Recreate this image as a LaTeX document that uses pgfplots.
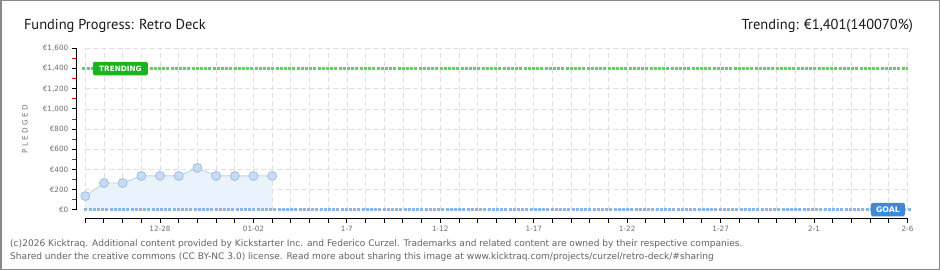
\documentclass[border=0pt]{standalone}
\usepackage{pgfplots}
\pgfplotsset{compat=1.18}
\usepackage{fontspec}
\setmainfont{PT Sans}
\newfontfamily\dejavu{DejaVu Sans}
\definecolor{framec}{RGB}{136,136,136}
\definecolor{gridc}{RGB}{222,222,222}
\definecolor{tickc}{RGB}{110,110,110}
\definecolor{areac}{RGB}{234,242,252}
\definecolor{linec}{RGB}{188,212,240}
\definecolor{markc}{RGB}{198,220,245}
\definecolor{markb}{RGB}{150,178,214}
\definecolor{goalc}{RGB}{138,182,232}
\definecolor{goalbox}{RGB}{62,138,216}
\definecolor{trendline}{RGB}{100,205,100}
\definecolor{trendbox}{RGB}{28,180,28}
\definecolor{footc}{RGB}{100,100,100}
\pgfplotstableread{
day pledged
0 135
1 265
2 265
3 335
4 335
5 335
6 415
7 335
8 335
9 335
10 335
}\pledges
\begin{document}
\begin{tikzpicture}
\useasboundingbox (0,0) rectangle (940bp,270bp);
\fill[white] (0,0) rectangle (940bp,270bp);
\draw[framec, line width=1.5bp] (0.75bp,0.75bp) rectangle (939.25bp,269.25bp);
\node[anchor=base west, font=\fontsize{14.5}{16}\selectfont, text=black!90] at (20.5bp,240.7bp) {Funding Progress: Retro Deck};
\node[anchor=base east, font=\fontsize{14.5}{16}\selectfont, text=black!90] at (916.5bp,240.7bp) {Trending: €1,401(140070\%)};
\node[anchor=base west, inner sep=0pt, font=\dejavu\fontsize{9.1}{10}\selectfont, text=footc] at (10bp,24bp) {(c)2026 Kicktraq. Additional content provided by Kickstarter Inc. and Federico Curzel. Trademarks and related content are owned by their respective companies.};
\node[anchor=base west, inner sep=0pt, font=\dejavu\fontsize{9.1}{10}\selectfont, text=footc] at (10bp,11bp) {Shared under the creative commons (CC BY-NC 3.0) license. Read more about sharing this image at www.kicktraq.com/projects/curzel/retro-deck/\#sharing};
\begin{axis}[
  at={(85.3bp,60.3bp)}, anchor=south west,
  scale only axis, width=822.2bp, height=161.2bp,
  xmin=0, xmax=44, ymin=0, ymax=1600,
  axis lines=left, axis line style={-, black, line width=1bp},
  axis x line shift=8.6bp, axis y line shift=9bp,
  xtick={4,9,...,44},
  xticklabels={12-28,01-02,1-7,1-12,1-17,1-22,1-27,2-1,2-6},
  minor xtick={0,...,44},
  ytick={0,200,...,1600},
  yticklabels={{€0},{€200},{€400},{€600},{€800},{€1,000},{€1,200},{€1,400},{€1,600}},
  minor ytick={100,300,...,1500},
  tick align=outside, major tick length=4.5bp, minor tick length=4.5bp,
  every tick/.style={black, line width=1bp},
  every minor y tick/.style={red, line width=1bp},
  xmajorgrids, xminorgrids, ymajorgrids,
  major grid style={gridc, dash pattern=on 5bp off 3bp, line width=0.8bp},
  minor grid style={gridc, dash pattern=on 5bp off 3bp, line width=0.8bp},
  tick label style={font=\dejavu\fontsize{7.3}{8}\selectfont, text=tickc},
  ylabel={P L E D G E D},
  ylabel style={at={(axis description cs:-0.0733,0.5)}, anchor=center, font=\dejavu\fontsize{7.3}{8}\selectfont, text=tickc},
  clip=false,
]
\addplot[fill=areac, draw=none] table[x=day, y=pledged] {\pledges} \closedcycle;
\addplot[linec, line width=0.9bp, mark=*, mark size=4.5bp, mark options={fill=markc, draw=markb, line width=0.6bp}] table[x=day, y=pledged] {\pledges};
\addplot[goalc, line width=3bp, dash pattern=on 3bp off 1.2bp] coordinates {(-0.05,1) (44.2,1)};
\addplot[trendline, line width=2.5bp, dash pattern=on 3bp off 1.2bp] coordinates {(-0.15,1401) (44,1401)};
\node[fill=trendbox, text=white, rounded corners=1.5bp, font=\dejavu\bfseries\fontsize{7.3}{8}\selectfont, inner xsep=3bp, minimum height=13.5bp, minimum width=55bp] at (axis cs:1.88,1401) {TRENDING};
\node[fill=goalbox, text=white, rounded corners=1.5bp, font=\dejavu\bfseries\fontsize{7.8}{8}\selectfont, inner xsep=3bp, minimum height=13.5bp, minimum width=34bp] at (axis cs:42.95,1) {GOAL};
\end{axis}
\end{tikzpicture}
\end{document}
